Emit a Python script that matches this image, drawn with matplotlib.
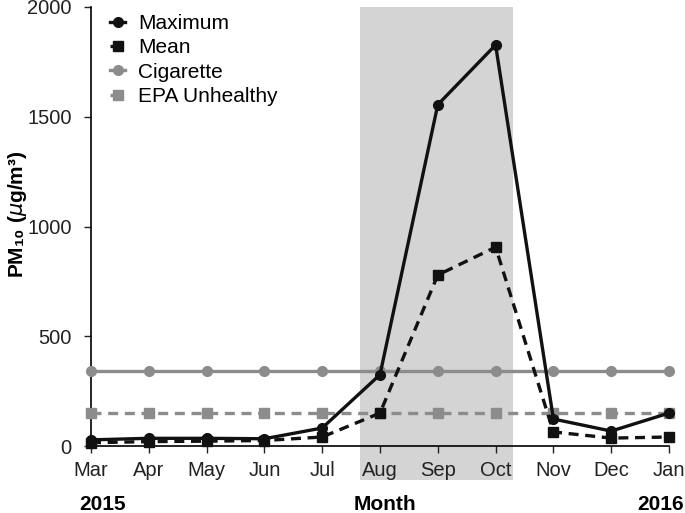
import matplotlib.pyplot as plt
from matplotlib.patches import Rectangle

plt.rcParams['font.family'] = ['Liberation Sans', 'DejaVu Sans']

# data
months = ['Mar', 'Apr', 'May', 'Jun', 'Jul', 'Aug', 'Sep', 'Oct', 'Nov', 'Dec', 'Jan']
maximum = [28, 35, 35, 33, 82, 325, 1555, 1827, 123, 68, 150]
mean = [15, 20, 22, 25, 41, 150, 779, 906, 64, 36, 41]
cigarette = [342] * len(months)
epa_unhealthy = [150] * len(months)
yticks = [0, 500, 1000, 1500, 2000]

x = list(range(len(months)))
black = '#111111'
gray = '#8c8c8c'
txt = '#222222'

fig = plt.figure(figsize=(6.85, 5.13), dpi=100)
ax = fig.add_axes([91 / 685, 1 - 446 / 513, 578 / 685, 439 / 513])

# shaded fire season (Aug-Oct), extends down behind the tick labels
shade = Rectangle((4.65, -155), 2.65, 2155, facecolor='#d4d4d4', edgecolor='none',
                  clip_on=False, zorder=0)
ax.add_patch(shade)

lw = 2.4
dash = (0, (3, 2))
ax.plot(x, maximum, color=black, lw=lw, marker='o', ms=7, label='Maximum', clip_on=False, zorder=5)
ax.plot(x, mean, color=black, lw=lw, ls=dash, marker='s', ms=6.5, label='Mean',
        clip_on=False, zorder=4)
ax.plot(x, cigarette, color=gray, lw=lw, marker='o', ms=7, label='Cigarette', clip_on=False, zorder=3)
ax.plot(x, epa_unhealthy, color=gray, lw=lw, ls=dash, marker='s', ms=6.5,
        label='EPA Unhealthy', clip_on=False, zorder=3)

ax.set_xlim(0, 10)
ax.set_ylim(0, 2000)
ax.set_xticks(x)
ax.set_xticklabels(months, fontsize=14.5, color=txt)
ax.set_yticks(yticks)
ax.set_yticklabels([str(v) for v in yticks], fontsize=14.5, color=txt)
ax.tick_params(axis='both', direction='out', length=5, width=1, color=txt)
ax.tick_params(axis='x', pad=6)
ax.tick_params(axis='y', pad=9)

for s in ['top', 'right']:
    ax.spines[s].set_visible(False)
ax.spines['left'].set_linewidth(1.2)
ax.spines['bottom'].set_linewidth(1.2)
ax.set_facecolor('none')

ax.set_ylabel('PM₁₀ ($\\mathit{\\mu}$g/m³)', fontsize=15, fontweight='bold')
ax.yaxis.set_label_coords(-0.108, 0.528)

leg = ax.legend(loc='upper left', bbox_to_anchor=(0.0, 1.027), frameon=False, fontsize=15,
                handlelength=0.75, handletextpad=0.6, labelspacing=0.26)

fig.text(103 / 685, 1 - 510 / 513, '2015', fontsize=15, fontweight='bold', ha='center', va='baseline')
fig.text(385 / 685, 1 - 510 / 513, 'Month', fontsize=15, fontweight='bold', ha='center', va='baseline')
fig.text(684 / 685, 1 - 510 / 513, '2016', fontsize=15, fontweight='bold', ha='right', va='baseline')

fig.savefig('out.png', dpi=100)
